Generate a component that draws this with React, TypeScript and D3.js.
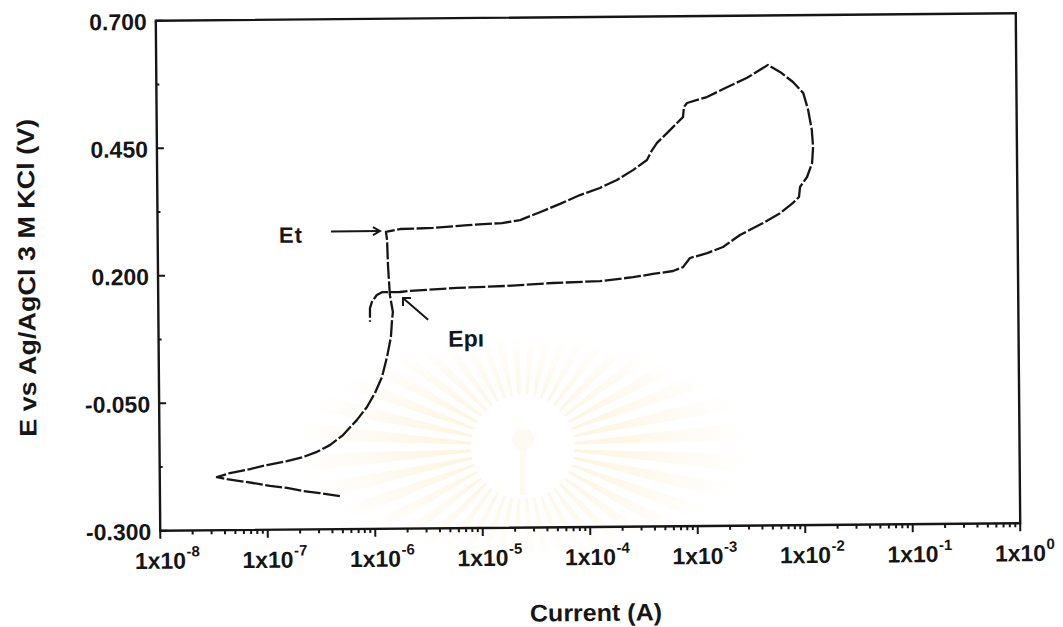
import React from "react";
import * as d3 from "d3";

// Cyclic polarization scan, stored in scan order.
// Cathodic start -> corrosion potential tip
const cathodicCurrent = [4.72e-7, 3.08e-7, 2.14e-7, 1.52e-7, 1.06e-7, 7.36e-8, 5.57e-8, 4.22e-8, 3.4e-8];
const cathodicPotential = [-0.235, -0.229, -0.2245, -0.218, -0.214, -0.208, -0.204, -0.2, -0.196];

// Anodic (forward) branch -> Et -> vertex
const anodicCurrent = [
  4.5e-8, 6.92e-8, 9.95e-8, 1.53e-7, 2.16e-7, 2.91e-7, 3.85e-7, 5.11e-7, 6.9e-7, 8.57e-7,
  1.02e-6, 1.19e-6, 1.33e-6, 1.45e-6, 1.49e-6, 1.52e-6, 1.43e-6, 1.38e-6, 1.36e-6, 1.33e-6,
  1.8e-6, 3.65e-6, 7.71e-6, 1.6e-5, 2.36e-5, 3.61e-5, 5.56e-5, 8.55e-5, 1.31e-4, 1.89e-4,
  2.67e-4, 3.61e-4, 4.04e-4, 4.49e-4, 5.57e-4, 6.92e-4, 7.87e-4, 8.05e-4, 8.61e-4, 1.32e-3,
  2.03e-3, 3.13e-3, 4.91e-3,
];
const anodicPotential = [
  -0.188, -0.1805, -0.173, -0.1655, -0.158, -0.148, -0.135, -0.1155, -0.086, -0.061,
  -0.0335, -0.002, 0.037, 0.076, 0.109, 0.125, 0.158, 0.217, 0.266, 0.282,
  0.2875, 0.289, 0.294, 0.2975, 0.303, 0.318, 0.334, 0.351, 0.3645, 0.38,
  0.399, 0.4186, 0.438, 0.452, 0.471, 0.4906, 0.502, 0.522, 0.5297, 0.541,
  0.56, 0.578, 0.603,
];

// Reverse branch from the vertex back through the protection potential
const reverseCurrent = [
  6.34e-3, 8.36e-3, 1.04e-2, 1.15e-2, 1.24e-2, 1.27e-2, 1.24e-2, 1.11e-2, 9.53e-3, 9.31e-3,
  8.18e-3, 6.18e-3, 4.29e-3, 2.61e-3, 1.81e-3, 1.29e-3, 8.91e-4, 7.66e-4, 6.18e-4, 4.02e-4,
  2.62e-4, 1.29e-4, 4.71e-5, 1.69e-5, 6.03e-6, 2.2e-6, 1.77e-6, 1.21e-6, 1.08e-6, 9.72e-7,
  9.31e-7, 9.29e-7,
];
const reversePotential = [
  0.589, 0.569, 0.547, 0.514, 0.4746, 0.441, 0.41, 0.3825, 0.363, 0.3435,
  0.332, 0.312, 0.293, 0.27, 0.2467, 0.235, 0.2257, 0.208, 0.2005, 0.195,
  0.189, 0.182, 0.179, 0.174, 0.171, 0.166, 0.164, 0.164, 0.1585, 0.145,
  0.133, 0.106,
];

// Annotated points
const etPoint = { current: 1.33e-6, potential: 0.282 };
const epPoint = { current: 1.85e-6, potential: 0.154 };

// Axes
const yTickValues = [0.7, 0.45, 0.2, -0.05, -0.3];
const yTickLabels = ["0.700", "0.450", "0.200", "-0.050", "-0.300"];
const yMinorValues = [0.575, 0.325, 0.075, -0.175];
const xExponents = [-8, -7, -6, -5, -4, -3, -2, -1, 0];
const xTickLabels = ["-8", "-7", "-6", "-5", "-4", "-3", "-2", "-1", "0"];

const W = 1063;
const H = 627;
const M = { left: 158, right: 1018, top: 17, bottom: 527 };
const FONT = "'Liberation Sans', Arial, Helvetica, sans-serif";
const INK = "#161616";

function Watermark() {
  const cx = 523;
  const cy = 447;
  const rx = 228;
  const ry = 112;
  const r0 = 52;
  const n = 44;
  const hw = (2.3 * Math.PI) / 180;
  const rays: string[] = [];
  for (let i = 0; i < n; i++) {
    const a = (i / n) * Math.PI * 2 + Math.PI / n;
    const outer = (t: number) =>
      1 / Math.sqrt((Math.cos(t) ** 2) / (rx * rx) + (Math.sin(t) ** 2) / (ry * ry));
    const p = (t: number, r: number) => `${cx + r * Math.cos(t)},${cy + r * Math.sin(t)}`;
    rays.push(
      `M${p(a - hw * 0.6, r0)} L${p(a - hw, outer(a - hw))} L${p(a, outer(a) + 6)} L${p(a + hw, outer(a + hw))} L${p(a + hw * 0.6, r0)} Z`
    );
  }
  return (
    <g>
      <defs>
        <radialGradient
          id="rayFade"
          gradientUnits="userSpaceOnUse"
          cx={cx}
          cy={cy}
          r={rx}
          gradientTransform={`translate(${cx} ${cy}) scale(1 ${ry / rx}) translate(${-cx} ${-cy})`}
        >
          <stop offset="0.2" stopColor="#f6d888" stopOpacity={0.28} />
          <stop offset="0.55" stopColor="#f8e2a8" stopOpacity={0.22} />
          <stop offset="0.85" stopColor="#fbeed0" stopOpacity={0.14} />
          <stop offset="1" stopColor="#fdf4e0" stopOpacity={0} />
        </radialGradient>
      </defs>
      {rays.map((d, i) => (
        <path key={i} d={d} fill="url(#rayFade)" />
      ))}
      <circle cx={cx} cy={cy - 8} r={11} fill="#f6e6c0" opacity={0.22} />
      <rect x={cx - 3} y={cy + 2} width={6} height={46} fill="#f6e6c0" opacity={0.2} />
    </g>
  );
}

export default function App() {
  const x = d3.scaleLog().domain([1e-8, 1]).range([M.left, M.right]);
  const y = d3.scaleLinear().domain([-0.3, 0.7]).range([M.bottom, M.top]);

  const current = [...cathodicCurrent, ...anodicCurrent, ...reverseCurrent];
  const potential = [...cathodicPotential, ...anodicPotential, ...reversePotential];
  const scan: [number, number][] = current.map((c, i) => [c, potential[i]]);

  const line = d3
    .line<[number, number]>()
    .x((d) => x(d[0]))
    .y((d) => y(d[1]));

  const xMinor: number[] = [];
  for (let e = -8; e < 0; e++) {
    for (let k = 2; k <= 9; k++) xMinor.push(k * Math.pow(10, e));
  }

  const etX = x(etPoint.current);
  const etY = y(etPoint.potential);
  const epX = x(epPoint.current);
  const epY = y(epPoint.potential);

  const cx = (M.left + M.right) / 2;
  const cy = (M.top + M.bottom) / 2;

  return (
    <svg
      width={W}
      height={H}
      viewBox={`0 0 ${W} ${H}`}
      style={{ position: "absolute", left: 0, top: 0, background: "#ffffff", display: "block" }}
      fontFamily={FONT}
    >
      <rect width={W} height={H} fill="#ffffff" />
      <Watermark />
      <g transform={`rotate(-0.5 ${cx} ${cy})`}>
        {/* frame */}
        <rect
          x={M.left}
          y={M.top}
          width={M.right - M.left}
          height={M.bottom - M.top}
          fill="none"
          stroke={INK}
          strokeWidth={2.4}
        />

        {/* y axis ticks (inward) */}
        {yTickValues.map((v, i) => (
          <g key={`yt${i}`}>
            <line x1={M.left} x2={M.left + 7} y1={y(v)} y2={y(v)} stroke={INK} strokeWidth={2} />
            <text
              x={M.left - 9}
              y={y(v) + 9}
              textAnchor="end"
              fontSize={23}
              fontWeight="bold"
              fill={INK}
            >
              {yTickLabels[i]}
            </text>
          </g>
        ))}
        {yMinorValues.map((v, i) => (
          <line key={`ym${i}`} x1={M.left} x2={M.left + 3} y1={y(v)} y2={y(v)} stroke={INK} strokeWidth={2} />
        ))}

        {/* x axis ticks (outward) */}
        {xMinor.map((v, i) => (
          <line key={`xm${i}`} x1={x(v)} x2={x(v)} y1={M.bottom} y2={M.bottom + 4} stroke={INK} strokeWidth={2} />
        ))}
        {xExponents.map((e, i) => {
          const px = x(Math.pow(10, e));
          return (
            <g key={`xt${i}`}>
              <line x1={px} x2={px} y1={M.bottom} y2={M.bottom + 8} stroke={INK} strokeWidth={2} />
              <text x={px} y={M.bottom + 38} textAnchor="middle" fontSize={23} fontWeight="bold" fill={INK}>
                1x10
              </text>
              <text x={px + 26} y={M.bottom + 26} textAnchor="start" fontSize={15} fontWeight="bold" fill={INK}>
                {xTickLabels[i]}
              </text>
            </g>
          );
        })}

        {/* axis titles */}
        <text
          transform={`translate(35 ${273}) rotate(-90)`}
          textAnchor="middle"
          fontSize={24}
          fontWeight="bold"
          fill={INK}
          textLength={318}
          lengthAdjust="spacingAndGlyphs"
        >
          E vs Ag/AgCl 3 M KCl (V)
        </text>
        <text
          x={593}
          y={621}
          textAnchor="middle"
          fontSize={24}
          fontWeight="bold"
          fill={INK}
          textLength={132}
          lengthAdjust="spacingAndGlyphs"
        >
          Current (A)
        </text>

        {/* polarization curve */}
        <path
          d={line(scan) ?? ""}
          fill="none"
          stroke={INK}
          strokeWidth={2.3}
          strokeDasharray="17 2.5"
          strokeLinejoin="round"
        />

        {/* Et annotation */}
        <text x={etX - 107} y={etY + 10} fontSize={22} fontWeight="bold" fill={INK} letterSpacing={1}>
          Et
        </text>
        <line x1={etX - 55} x2={etX - 6} y1={etY - 1} y2={etY - 1} stroke={INK} strokeWidth={2} />
        <path
          d={`M${etX - 13},${etY - 5} L${etX - 6},${etY - 1} L${etX - 13},${etY + 3}`}
          fill="none"
          stroke={INK}
          strokeWidth={2}
        />

        {/* Ep annotation */}
        <text x={epX + 46} y={epY + 50} fontSize={23} fontWeight="bold" fill={INK}>
          Epı
        </text>
        <line x1={epX + 26} x2={epX + 1} y1={epY + 23} y2={epY + 1} stroke={INK} strokeWidth={2} />
        <path
          d={`M${epX + 1},${epY + 9} L${epX + 1},${epY + 1} L${epX + 9},${epY + 1}`}
          fill="none"
          stroke={INK}
          strokeWidth={2}
        />
      </g>
    </svg>
  );
}
